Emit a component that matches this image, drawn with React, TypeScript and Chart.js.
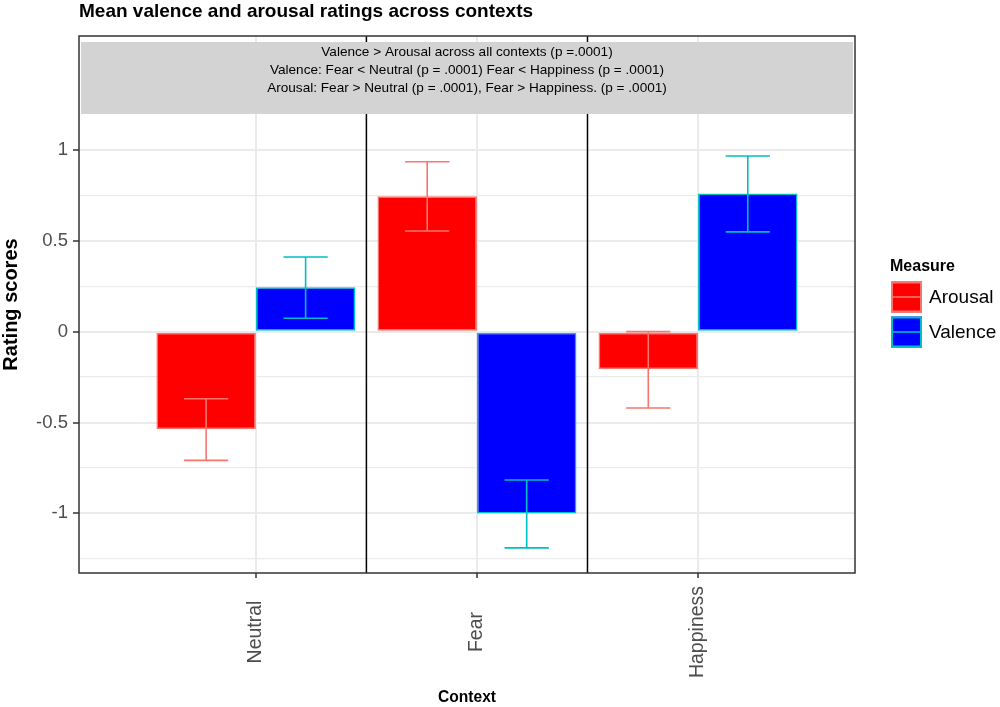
import React, { useEffect, useRef } from "react";
import { Chart, registerables } from "chart.js";

Chart.register(...registerables);

const TITLE = "Mean valence and arousal ratings across contexts";
const X_TITLE = "Context";
const Y_TITLE = "Rating scores";
const LEGEND_TITLE = "Measure";
const CATEGORIES = ["Neutral", "Fear", "Happiness"];
const SERIES = ["Arousal", "Valence"];

const AROUSAL_MEAN = [-0.537, 0.745, -0.207];
const AROUSAL_LOW = [-0.708, 0.554, -0.42];
const AROUSAL_HIGH = [-0.369, 0.935, 0.0];

const VALENCE_MEAN = [0.245, -1.0, 0.76];
const VALENCE_LOW = [0.074, -1.19, 0.549];
const VALENCE_HIGH = [0.411, -0.816, 0.967];

const Y_TICKS = [-1, -0.5, 0, 0.5, 1];
const Y_MINOR = [-1.25, -0.75, -0.25, 0.25, 0.75];

const STRIP_LINES = [
  "Valence > Arousal across all contexts (p =.0001)",
  "Valence: Fear < Neutral (p = .0001) Fear < Happiness (p = .0001)",
  "Arousal: Fear > Neutral (p = .0001), Fear > Happiness. (p = .0001)",
];

const FILLS = ["#FF0000", "#0000FF"];
const EDGES = ["#F8766D", "#00BFC4"];
const MEANS = [AROUSAL_MEAN, VALENCE_MEAN];
const LOWS = [AROUSAL_LOW, VALENCE_LOW];
const HIGHS = [AROUSAL_HIGH, VALENCE_HIGH];

const FONT = "'Liberation Sans', Arial, Helvetica, sans-serif";
const STRIP_BOTTOM = 1.198;

const decor = {
  id: "decor",
  beforeDatasetsDraw(chart: any) {
    const { ctx, chartArea: a, scales } = chart;
    const x = scales.x;
    const y = scales.y;
    ctx.save();
    // category separators
    ctx.strokeStyle = "#000000";
    ctx.lineWidth = 1.5;
    for (let i = 0; i < CATEGORIES.length - 1; i++) {
      const px = x.getPixelForValue(i + 1.5);
      ctx.beginPath();
      ctx.moveTo(px, a.top);
      ctx.lineTo(px, a.bottom);
      ctx.stroke();
    }
    // annotation strip
    const sTop = a.top + 6;
    const sBot = y.getPixelForValue(STRIP_BOTTOM);
    ctx.fillStyle = "#D3D3D3";
    ctx.fillRect(a.left + 2, sTop, a.right - a.left - 4, sBot - sTop);
    ctx.fillStyle = "#000000";
    ctx.font = `13.6px ${FONT}`;
    ctx.textAlign = "center";
    ctx.textBaseline = "middle";
    const cx = (a.left + a.right) / 2;
    STRIP_LINES.forEach((t, i) => ctx.fillText(t, cx, sTop + 10 + i * 18));
    ctx.restore();
  },
  afterDatasetsDraw(chart: any) {
    const { ctx, chartArea: a, scales } = chart;
    const x = scales.x;
    const y = scales.y;
    ctx.save();
    // error bars
    const capHalf = x.getPixelForValue(1.1) - x.getPixelForValue(1);
    chart.data.datasets.forEach((_ds: any, di: number) => {
      const meta = chart.getDatasetMeta(di);
      ctx.strokeStyle = EDGES[di];
      ctx.lineWidth = 1.6;
      meta.data.forEach((bar: any, i: number) => {
        const bx = bar.x;
        const yl = y.getPixelForValue(LOWS[di][i]);
        const yh = y.getPixelForValue(HIGHS[di][i]);
        ctx.beginPath();
        ctx.moveTo(bx, yl);
        ctx.lineTo(bx, yh);
        ctx.moveTo(bx - capHalf, yl);
        ctx.lineTo(bx + capHalf, yl);
        ctx.moveTo(bx - capHalf, yh);
        ctx.lineTo(bx + capHalf, yh);
        ctx.stroke();
      });
    });
    // panel border
    ctx.strokeStyle = "#333333";
    ctx.lineWidth = 1.5;
    ctx.strokeRect(a.left, a.top, a.right - a.left, a.bottom - a.top);

    // x tick labels (rotated, centred)
    ctx.fillStyle = "#4D4D4D";
    ctx.font = `19.5px ${FONT}`;
    ctx.textAlign = "center";
    ctx.textBaseline = "middle";
    CATEGORIES.forEach((c, i) => {
      const px = x.getPixelForValue(i + 1);
      ctx.save();
      ctx.translate(px, a.bottom + 59);
      ctx.rotate(-Math.PI / 2);
      ctx.fillText(c, 0, 0);
      ctx.restore();
    });

    // title
    ctx.fillStyle = "#000000";
    ctx.font = `bold 19px ${FONT}`;
    ctx.textAlign = "left";
    ctx.textBaseline = "alphabetic";
    ctx.fillText(TITLE, a.left, 17);

    // legend
    const lx = a.right + 35;
    const midY = (a.top + a.bottom) / 2;
    ctx.font = `bold 16px ${FONT}`;
    ctx.textBaseline = "middle";
    ctx.fillText(LEGEND_TITLE, lx, midY - 38);
    SERIES.forEach((s, i) => {
      const top = midY - 23 + i * 35;
      const size = 31;
      ctx.fillStyle = FILLS[i];
      ctx.fillRect(lx + 1, top, size, size);
      ctx.strokeStyle = EDGES[i];
      ctx.lineWidth = 2;
      ctx.strokeRect(lx + 2, top + 1, size - 2, size - 2);
      ctx.lineWidth = 1.6;
      ctx.beginPath();
      ctx.moveTo(lx + 3, top + size / 2);
      ctx.lineTo(lx + size - 1, top + size / 2);
      ctx.stroke();
      ctx.fillStyle = "#000000";
      ctx.font = `19px ${FONT}`;
      ctx.fillText(s, lx + 39, top + 16.5);
    });
    ctx.restore();
  },
};

export default function App() {
  const ref = useRef<HTMLCanvasElement | null>(null);

  useEffect(() => {
    if (!ref.current) return;
    const chart = new Chart(ref.current, {
      type: "bar",
      data: {
        datasets: SERIES.map((s, di) => ({
          label: s,
          data: MEANS[di].map((v, i) => ({ x: i + 1, y: v })),
          backgroundColor: FILLS[di],
          borderColor: EDGES[di],
          borderWidth: 1.5,
          borderSkipped: false,
          categoryPercentage: 0.9,
          barPercentage: 1,
        })),
      },
      options: {
        animation: false,
        responsive: true,
        maintainAspectRatio: false,
        devicePixelRatio: 1,
        layout: { padding: { top: 36, right: 145, left: 0, bottom: 0 } },
        plugins: {
          legend: { display: false },
          tooltip: { enabled: false },
          title: { display: false },
        },
        scales: {
          x: {
            type: "linear",
            min: 0.2,
            max: 3.71,
            offset: false,
            afterBuildTicks: (s: any) => {
              s.ticks = CATEGORIES.map((_c, i) => ({ value: i + 1 }));
            },
            afterFit: (s: any) => {
              s.height = 134;
            },
            ticks: { display: false },
            grid: {
              offset: false,
              color: "#EBEBEB",
              lineWidth: 2,
              tickColor: "#333333",
              tickLength: 5,
              tickWidth: 1.5,
            },
            border: { display: false },
            title: {
              display: true,
              text: X_TITLE,
              color: "#000000",
              font: { family: FONT, size: 15.6, weight: "bold", lineHeight: 1.15 },
              padding: 0,
            },
          },
          y: {
            type: "linear",
            min: -1.328,
            max: 1.627,
            afterBuildTicks: (s: any) => {
              s.ticks = [...Y_MINOR, ...Y_TICKS]
                .sort((p, q) => p - q)
                .map((v) => ({ value: v }));
            },
            afterFit: (s: any) => {
              s.width = 79;
            },
            ticks: {
              autoSkip: false,
              padding: 5,
              color: "#4D4D4D",
              font: { family: FONT, size: 18.5 },
              callback: (v: any) => (Y_TICKS.includes(Number(v)) ? String(v) : ""),
            },
            grid: {
              color: "#EBEBEB",
              lineWidth: (c: any) => (Y_TICKS.includes(c.tick?.value) ? 2 : 1.2),
              tickColor: (c: any) =>
                Y_TICKS.includes(c.tick?.value) ? "#333333" : "rgba(0,0,0,0)",
              tickLength: 6,
              tickWidth: 1.5,
            },
            border: { display: false },
            title: {
              display: true,
              text: Y_TITLE,
              color: "#000000",
              font: { family: FONT, size: 20, weight: "bold", lineHeight: 1.1 },
              padding: 0,
            },
          },
        },
      },
      plugins: [decor],
    } as any);
    return () => chart.destroy();
  }, []);

  return (
    <div
      style={{
        position: "fixed",
        left: 0,
        top: 0,
        width: 1000,
        height: 707,
        background: "#FFFFFF",
      }}
    >
      <canvas ref={ref} />
    </div>
  );
}
